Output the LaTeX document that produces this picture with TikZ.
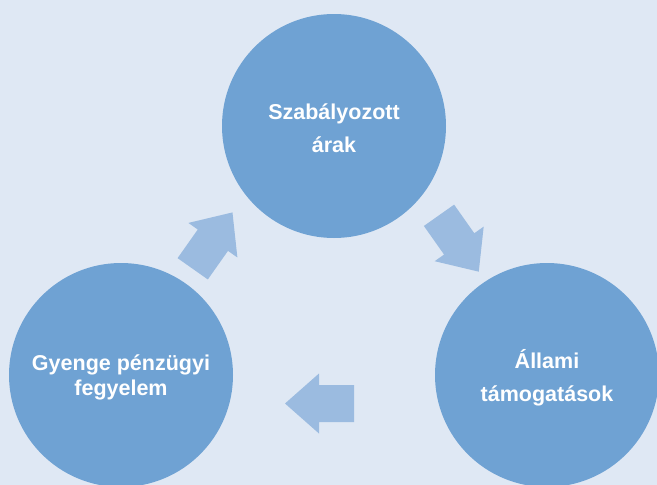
\documentclass[tikz,border=0pt]{standalone}
\usepackage{fontspec}
\setmainfont{Liberation Sans}
\definecolor{bg}{HTML}{DFE8F4}
\definecolor{circ}{HTML}{6FA2D3}
\definecolor{arr}{HTML}{9BBBE0}
\tikzset{
  bubble/.style={circle, fill=circ, minimum size=224pt, inner sep=0pt,
    text=white, align=center, font=\bfseries\fontsize{21.5}{33}\selectfont},
  blockarrow/.style={fill=arr},
}
\newcommand{\myblockarrow}{%
  \fill[blockarrow] (0,-18.5) -- (35,-18.5) -- (35,-30) -- (69,0) -- (35,30) -- (35,18.5) -- (0,18.5) -- cycle;}
\begin{document}
\begin{tikzpicture}[x=1pt,y=-1pt]
\fill[bg] (0,0) rectangle (657,485);
\useasboundingbox (0,0) rectangle (657,485);
\node[bubble] (top) at (334,126) {\rule{0pt}{20.5pt}Szabályozott\\árak};
\node[bubble] (right) at (547,375) {\rule{0pt}{25pt}Állami\\támogatások};
\node[bubble, font=\bfseries\fontsize{21.5}{25}\selectfont] (left) at (121,375) {\rule{0pt}{21pt}Gyenge pénzügyi\\fegyelem};
\begin{scope}[shift={(192.7,268.8)}, rotate=54.8]
  \myblockarrow
\end{scope}
\begin{scope}[shift={(439,215.3)}, rotate=-54.8]
  \myblockarrow
\end{scope}
\begin{scope}[shift={(354,403.5)}, rotate=180]
  \myblockarrow
\end{scope}
\end{tikzpicture}
\end{document}
